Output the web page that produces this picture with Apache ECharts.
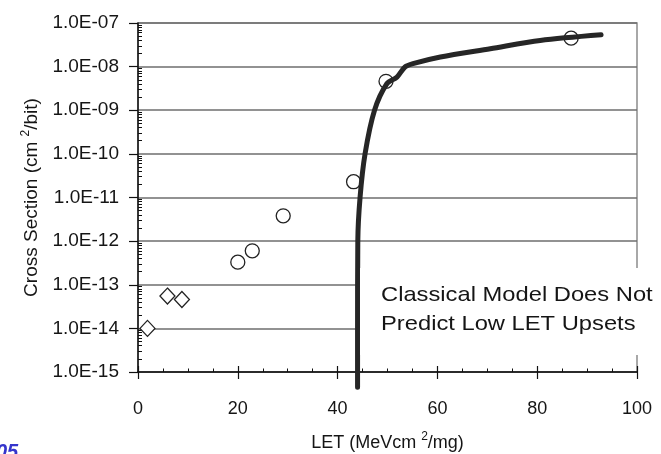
<!DOCTYPE html>
<html><head><meta charset="utf-8">
<script src="https://cdn.jsdelivr.net/npm/echarts@6/dist/echarts.min.js"></script>
<style>html,body{margin:0;padding:0;background:#fff;}#c{width:661px;height:454px;}</style>
</head><body><div id="c"></div>
<script>
// ---- data ----
const xTickValues = [0, 20, 40, 60, 80, 100];
const yTickLabels = ['1.0E-15','1.0E-14','1.0E-13','1.0E-12','1.0E-11','1.0E-10','1.0E-09','1.0E-08','1.0E-07'];
const diamondLET = [1.9, 5.9, 8.8];
const diamondCS  = [1.0e-14, 5.5e-14, 4.6e-14];
const circleLET  = [20.0, 22.9, 29.1, 43.2, 49.7, 86.8];
const circleCS   = [3.3e-13, 6.0e-13, 3.8e-12, 2.3e-11, 4.6e-9, 4.5e-8];
const modelLET   = [44.0, 44.0, 44.05, 44.5, 45.5, 47.4, 49.9, 51.9, 53.5, 55.1, 60.6, 70.6, 80.6, 92.8];
const modelCS    = [4.5e-16, 1e-14, 1e-12, 1e-11, 1e-10, 1e-9, 4.1e-9, 5.75e-9, 9.8e-9, 1.17e-8, 1.66e-8, 2.57e-8, 3.98e-8, 5.37e-8];

const zip = (a, b) => a.map((v, i) => [v, b[i]]);
const FONT = '"Liberation Sans", Arial, sans-serif';
const TXT = '#151515';

const chart = echarts.init(document.getElementById('c'), null, {renderer: 'canvas'});
const yLabel = v => {
  const e = Math.round(Math.log10(v));
  return yTickLabels[e + 15] !== undefined ? yTickLabels[e + 15] : '';
};
chart.setOption({
  animation: false,
  backgroundColor: '#fff',
  grid: {left: 138, right: 24, top: 23, bottom: 82, containLabel: false, outerBoundsMode: 'none',
         show: true, borderColor: '#8c8c8c', borderWidth: 1.5, backgroundColor: 'transparent'},
  xAxis: [{
    type: 'value', min: xTickValues[0], max: xTickValues[xTickValues.length - 1], interval: 20,
    axisLine: {show: true, lineStyle: {color: '#111', width: 1.5}},
    axisTick: {show: true, length: 7, lineStyle: {color: '#111', width: 1.2}},
    axisLabel: {margin: 28, fontSize: 18, fontFamily: FONT, color: TXT},
    splitLine: {show: false},
    name: '{a|LET (MeVcm }{s|2}{a|/mg)}', nameLocation: 'middle', nameGap: 59,
    nameTextStyle: {rich: {a: {fontSize: 18, fontFamily: FONT, color: TXT}, s: {fontSize: 12, fontFamily: FONT, color: TXT, padding: [0, 0, 12, 0]}}}
  }, {
    type: 'value', min: 0, max: 100, interval: 20, position: 'bottom',
    axisLine: {show: false},
    axisTick: {show: true, inside: true, length: 6, lineStyle: {color: '#111', width: 1.2}},
    minorTick: {show: true, splitNumber: 4, length: 3.5, lineStyle: {color: '#111', width: 1}},
    axisLabel: {show: false}, splitLine: {show: false}
  }],
  yAxis: [{
    type: 'log', logBase: 10, min: 1e-15, max: 1e-7, interval: 1,
    axisLine: {show: true, lineStyle: {color: '#111', width: 1.5}},
    axisTick: {show: true, length: 9, lineStyle: {color: '#111', width: 1.2}},
    axisLabel: {margin: 19, fontSize: 19, fontFamily: FONT, color: TXT, formatter: yLabel},
    splitLine: {show: true, lineStyle: {color: '#6e6e6e', width: 1.6}},
    name: '{a|Cross Section (cm }{s|2}{a|/bit)}', nameLocation: 'middle', nameGap: 94,
    nameTextStyle: {rich: {a: {fontSize: 19, fontFamily: FONT, color: TXT}, s: {fontSize: 12, fontFamily: FONT, color: TXT, padding: [0, 0, 12, 0]}}}
  }, {
    type: 'log', logBase: 10, min: 1e-15, max: 1e-7, interval: 1, position: 'left',
    axisLine: {show: false},
    axisTick: {show: false, inside: true},
    minorTick: {show: true, splitNumber: 9, length: 4, lineStyle: {color: '#111', width: 1}},
    axisLabel: {show: false}, splitLine: {show: false}
  }],
  series: [{
    type: 'scatter', z: 2, symbol: 'diamond', symbolSize: [15, 16],
    itemStyle: {color: '#fff', borderColor: '#222', borderWidth: 1.3, opacity: 1},
    data: zip(diamondLET, diamondCS)
  }, {
    type: 'scatter', z: 2, symbol: 'circle', symbolSize: 14,
    itemStyle: {color: '#fff', borderColor: '#222', borderWidth: 1.3, opacity: 1},
    data: zip(circleLET, circleCS)
  }, {
    type: 'line', z: 3, clip: false, smooth: 0.3, showSymbol: false, symbol: 'none',
    lineStyle: {color: '#262626', width: 5, cap: 'round', join: 'round'},
    data: zip(modelLET, modelCS)
  }],
  graphic: [{
    type: 'rect', z: 10, shape: {x: 360, y: 268, width: 290, height: 87}, style: {fill: '#fff'}
  }, {
    type: 'text', z: 11, x: 381, y: 281, scaleX: 1.13,
    style: {text: 'Classical Model Does Not\nPredict Low LET Upsets', font: '21px ' + FONT, lineHeight: 29, fill: TXT, align: 'left', verticalAlign: 'top'}
  }, {
    type: 'text', z: 11, x: -4, y: 442,
    style: {text: '05', font: 'italic bold 20px ' + FONT, fill: '#3535cc', align: 'left', verticalAlign: 'top'}
  }]
});
</script>
</body></html>
